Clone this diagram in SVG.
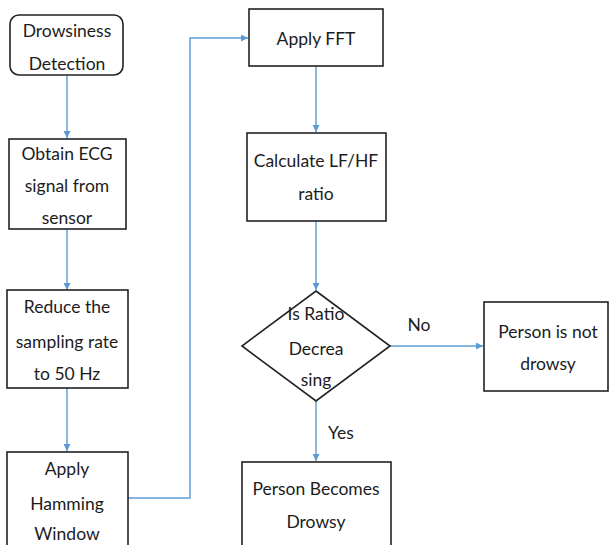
<svg xmlns="http://www.w3.org/2000/svg" width="609" height="545" viewBox="0 0 609 545">
<style>
.box{fill:#fff;stroke:#222;stroke-width:1.6}
.t{font-family:Lato,"Liberation Sans",sans-serif;font-size:17.5px;fill:#1c1c1c;text-anchor:middle}
.c{fill:none;stroke:#5b9bd5;stroke-width:1.4}
</style>
<defs>
<marker id="ah" viewBox="0 0 10 10" refX="10" refY="5" markerWidth="7" markerHeight="7" markerUnits="userSpaceOnUse" orient="auto">
<path d="M0,0 L10,5 L0,10 z" fill="#5b9bd5"/>
</marker>
</defs>
<rect width="609" height="545" fill="#fff"/>
<g id="connectors">
<path class="c" d="M67,75 V138" marker-end="url(#ah)"/>
<path class="c" d="M67,229 V290" marker-end="url(#ah)"/>
<path class="c" d="M67,388 V451" marker-end="url(#ah)"/>
<path class="c" d="M128,498 H190 V38 H248" marker-end="url(#ah)"/>
<path class="c" d="M316,66 V132" marker-end="url(#ah)"/>
<path class="c" d="M316,221 V290" marker-end="url(#ah)"/>
<path class="c" d="M390,346 H483" marker-end="url(#ah)"/>
<path class="c" d="M316,401 V461" marker-end="url(#ah)"/>
<text class="t" x="419" y="331">No</text>
<text class="t" x="341" y="439">Yes</text>
</g>
<g id="start">
<rect class="box" x="10" y="15" width="113" height="60" rx="9"/>
<text class="t" x="67" y="37">Drowsiness</text>
<text class="t" x="67" y="70">Detection</text>
</g>
<g id="obtain">
<rect class="box" x="9" y="139" width="117" height="90"/>
<text class="t" x="67" y="160">Obtain ECG</text>
<text class="t" x="67" y="192">signal from</text>
<text class="t" x="67" y="224">sensor</text>
</g>
<g id="reduce">
<rect class="box" x="7" y="290" width="121" height="98"/>
<text class="t" x="67" y="313">Reduce the</text>
<text class="t" x="67" y="348">sampling rate</text>
<text class="t" x="67" y="380">to 50  Hz</text>
</g>
<g id="hamming">
<rect class="box" x="7" y="452" width="121" height="100"/>
<text class="t" x="67" y="475">Apply</text>
<text class="t" x="67" y="510">Hamming</text>
<text class="t" x="67" y="540">Window</text>
</g>
<g id="fft">
<rect class="box" x="249" y="9" width="134" height="57"/>
<text class="t" x="316" y="45">Apply FFT</text>
</g>
<g id="ratio">
<rect class="box" x="247" y="133" width="139" height="88"/>
<text class="t" x="316" y="167">Calculate LF/HF</text>
<text class="t" x="316" y="200">ratio</text>
</g>
<g id="decision">
<path class="box" d="M316,291 L390,346 L316,401 L242,346 Z"/>
<text class="t" x="316" y="320">Is Ratio</text>
<text class="t" x="316" y="355">Decrea</text>
<text class="t" x="316" y="386">sing</text>
</g>
<g id="notdrowsy">
<rect class="box" x="484" y="302" width="124" height="89"/>
<text class="t" x="548" y="338">Person is not</text>
<text class="t" x="548" y="370">drowsy</text>
</g>
<g id="drowsy">
<rect class="box" x="242" y="462" width="149" height="90"/>
<text class="t" x="316" y="495">Person Becomes</text>
<text class="t" x="316" y="528">Drowsy</text>
</g>
</svg>
